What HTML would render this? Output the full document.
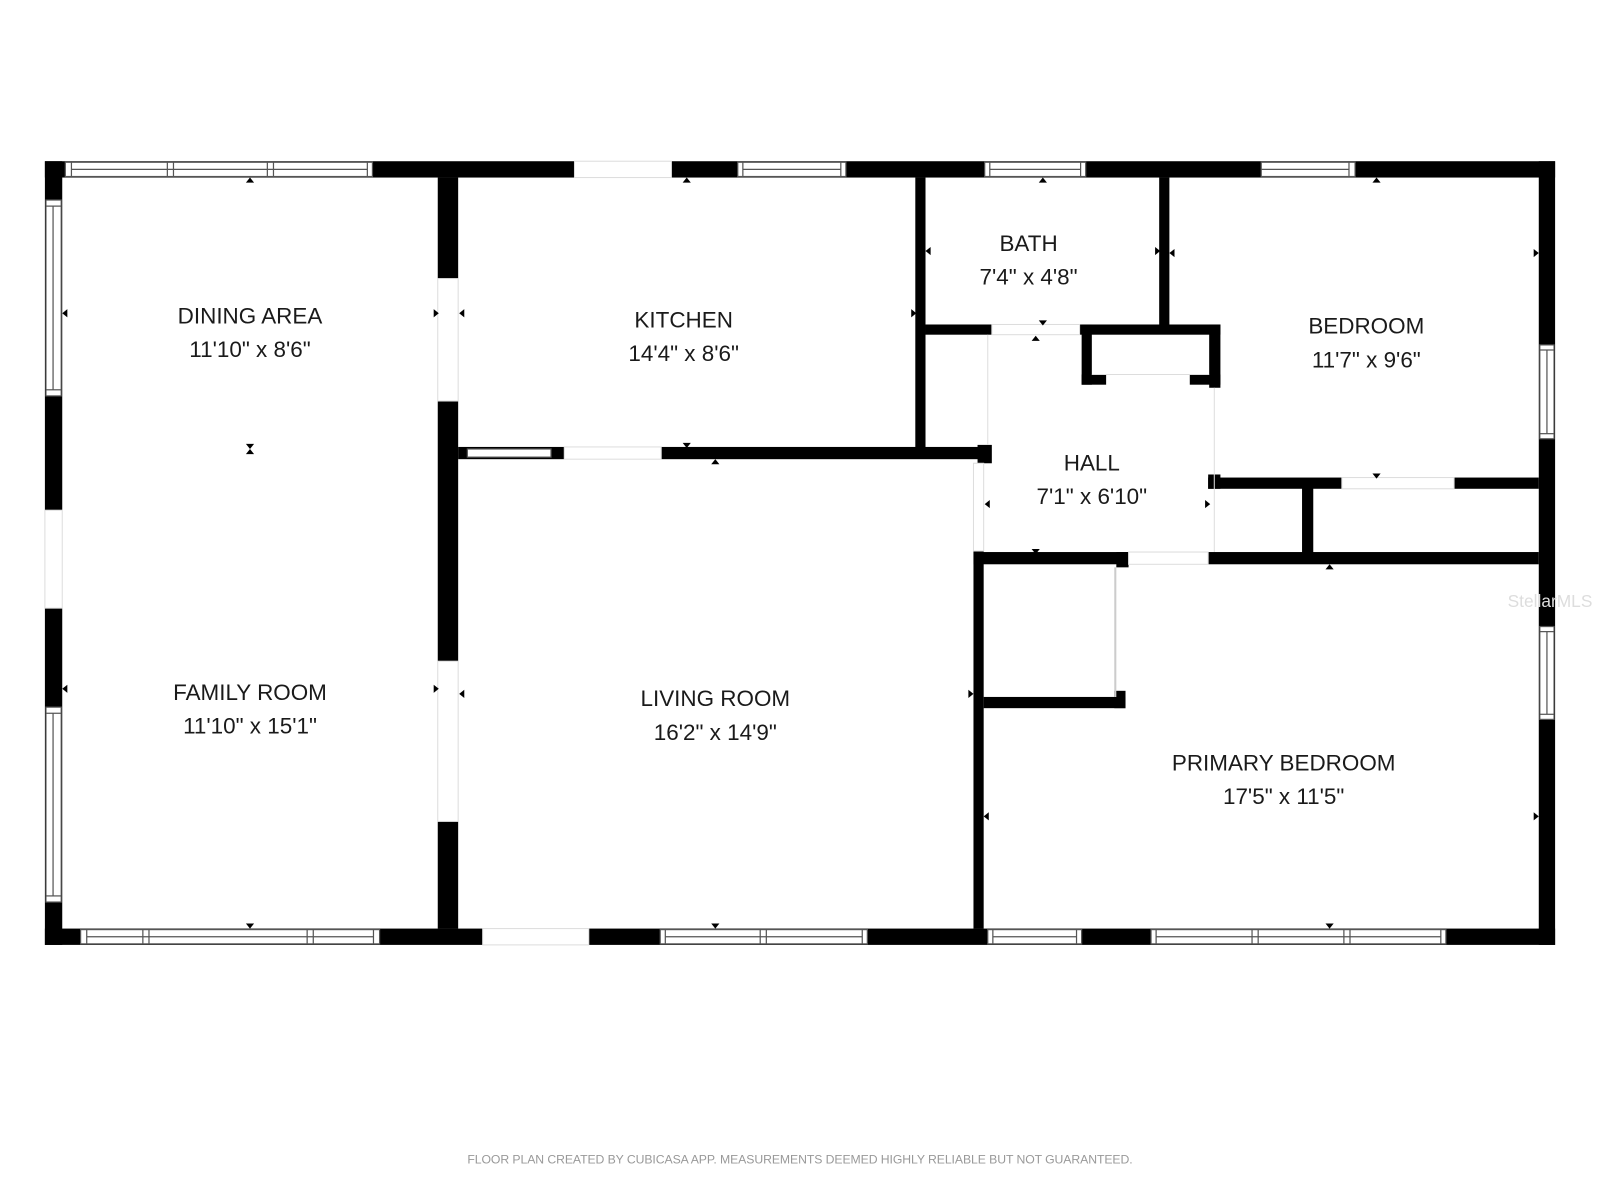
<!DOCTYPE html>
<html><head><meta charset="utf-8"><style>
html,body{margin:0;padding:0;background:#fff;width:1600px;height:1200px;overflow:hidden}
svg{display:block}
text{font-family:"Liberation Sans",sans-serif;fill:#1a1a1a;text-anchor:middle}
.w{fill:#fff;stroke:#555;stroke-width:1.2}
.l{stroke:#555;stroke-width:1.2}
.o{fill:#fff;stroke:#ddd;stroke-width:1}
</style></head><body>
<svg width="1600" height="1200" viewBox="0 0 1568 1176" xmlns="http://www.w3.org/2000/svg">
<defs>
<path id="u" d="M-4,2 L4,2 L0,-3 Z" fill="#000"/>
<path id="d" d="M-4,-2 L4,-2 L0,3 Z" fill="#000"/>
<path id="r" d="M-2,-4 L-2,4 L3,0 Z" fill="#000"/>
<path id="lt" d="M2,-4 L2,4 L-3,0 Z" fill="#000"/>
</defs>
<g fill="#000">
<rect x="44" y="158" width="1480" height="16"/>
<rect x="44" y="910" width="1480" height="16"/>
<rect x="44" y="158" width="17" height="768"/>
<rect x="1508" y="158" width="16" height="768"/>
<rect x="429" y="174" width="20" height="99"/>
<rect x="429" y="393" width="20" height="255"/>
<rect x="429" y="805" width="20" height="105"/>
<rect x="449" y="438" width="516" height="12"/>
<rect x="897" y="174" width="10" height="270"/>
<rect x="907" y="318" width="65" height="10"/>
<rect x="1058" y="318" width="138" height="10"/>
<rect x="1136" y="174" width="10" height="150"/>
<rect x="1060" y="318" width="10" height="59"/>
<rect x="1060" y="367" width="24" height="10"/>
<rect x="1185" y="318" width="11" height="62"/>
<rect x="1166" y="367" width="30" height="10"/>
<rect x="958" y="436" width="14" height="18"/>
<rect x="954" y="540" width="10" height="370"/>
<rect x="954" y="541" width="152" height="12"/>
<rect x="1094" y="541" width="12" height="15"/>
<rect x="1184" y="541" width="324" height="12"/>
<rect x="1184" y="465" width="12" height="14"/>
<rect x="1184" y="468" width="131" height="11"/>
<rect x="1425" y="468" width="83" height="11"/>
<rect x="1276" y="477" width="11" height="71"/>
<rect x="964" y="683" width="139" height="11"/>
<rect x="1092" y="677" width="11" height="17"/>
</g>
<rect class="o" x="563" y="158" width="95" height="16"/>
<rect class="o" x="44" y="500" width="17" height="96"/>
<rect class="o" x="473" y="910" width="104" height="16"/>
<rect class="o" x="553" y="438" width="95" height="12"/>
<rect class="o" x="429" y="273" width="20" height="120"/>
<rect class="o" x="429" y="648" width="20" height="157"/>
<rect class="o" x="972" y="318" width="86" height="10"/>
<rect class="o" x="1315" y="468" width="110" height="11"/>
<rect class="o" x="1106" y="541" width="78" height="12"/>
<rect class="o" x="954" y="454" width="10" height="86"/>
<line x1="1093" y1="556" x2="1093" y2="683" stroke="#ccc" stroke-width="2"/>
<line x1="1070" y1="367" x2="1185" y2="367" stroke="#ddd"/>
<line x1="1190" y1="380" x2="1190" y2="541" stroke="#ddd"/>
<line x1="968" y1="328" x2="968" y2="436" stroke="#ddd"/>
<g>
<rect class="w" x="64" y="159" width="301" height="14"/><line class="l" x1="70" y1="166" x2="360" y2="166"/>
<line class="l" x1="70" y1="159" x2="70" y2="173"/><line class="l" x1="164" y1="159" x2="164" y2="173"/><line class="l" x1="170" y1="159" x2="170" y2="173"/><line class="l" x1="262" y1="159" x2="262" y2="173"/><line class="l" x1="268" y1="159" x2="268" y2="173"/><line class="l" x1="360" y1="159" x2="360" y2="173"/>
<rect class="w" x="723" y="159" width="106" height="14"/><line class="l" x1="728" y1="166" x2="824" y2="166"/><line class="l" x1="728" y1="159" x2="728" y2="173"/><line class="l" x1="824" y1="159" x2="824" y2="173"/>
<rect class="w" x="965" y="159" width="99" height="14"/><line class="l" x1="970" y1="166" x2="1059" y2="166"/><line class="l" x1="970" y1="159" x2="970" y2="173"/><line class="l" x1="1059" y1="159" x2="1059" y2="173"/>
<rect class="w" x="1236" y="159" width="92" height="14"/><line class="l" x1="1236" y1="166" x2="1322" y2="166"/><line class="l" x1="1322" y1="159" x2="1322" y2="173"/>
<rect class="w" x="79" y="911" width="293" height="14"/><line class="l" x1="85" y1="918" x2="366" y2="918"/>
<line class="l" x1="85" y1="911" x2="85" y2="925"/><line class="l" x1="140" y1="911" x2="140" y2="925"/><line class="l" x1="146" y1="911" x2="146" y2="925"/><line class="l" x1="301" y1="911" x2="301" y2="925"/><line class="l" x1="307" y1="911" x2="307" y2="925"/><line class="l" x1="366" y1="911" x2="366" y2="925"/>
<rect class="w" x="647" y="911" width="203" height="14"/><line class="l" x1="652" y1="918" x2="845" y2="918"/><line class="l" x1="652" y1="911" x2="652" y2="925"/><line class="l" x1="745" y1="911" x2="745" y2="925"/><line class="l" x1="751" y1="911" x2="751" y2="925"/><line class="l" x1="845" y1="911" x2="845" y2="925"/>
<rect class="w" x="968" y="911" width="92" height="14"/><line class="l" x1="973" y1="918" x2="1055" y2="918"/><line class="l" x1="973" y1="911" x2="973" y2="925"/><line class="l" x1="1055" y1="911" x2="1055" y2="925"/>
<rect class="w" x="1128" y="911" width="289" height="14"/><line class="l" x1="1133" y1="918" x2="1412" y2="918"/>
<line class="l" x1="1133" y1="911" x2="1133" y2="925"/><line class="l" x1="1227" y1="911" x2="1227" y2="925"/><line class="l" x1="1233" y1="911" x2="1233" y2="925"/><line class="l" x1="1317" y1="911" x2="1317" y2="925"/><line class="l" x1="1323" y1="911" x2="1323" y2="925"/><line class="l" x1="1412" y1="911" x2="1412" y2="925"/>
<rect class="w" x="458" y="440" width="82" height="8"/>
<rect class="w" x="45" y="196" width="15" height="192"/><line class="l" x1="52" y1="202" x2="52" y2="382"/><line class="l" x1="45" y1="202" x2="60" y2="202"/><line class="l" x1="45" y1="382" x2="60" y2="382"/>
<rect class="w" x="45" y="693" width="15" height="191"/><line class="l" x1="52" y1="699" x2="52" y2="878"/><line class="l" x1="45" y1="699" x2="60" y2="699"/><line class="l" x1="45" y1="878" x2="60" y2="878"/>
<rect class="w" x="1509" y="338" width="14" height="92"/><line class="l" x1="1516" y1="343" x2="1516" y2="425"/><line class="l" x1="1509" y1="343" x2="1523" y2="343"/><line class="l" x1="1509" y1="425" x2="1523" y2="425"/>
<rect class="w" x="1509" y="614" width="14" height="91"/><line class="l" x1="1516" y1="619" x2="1516" y2="700"/><line class="l" x1="1509" y1="619" x2="1523" y2="619"/><line class="l" x1="1509" y1="700" x2="1523" y2="700"/>
</g>
<!-- markers -->
<use href="#u" x="245" y="177"/><use href="#u" x="673" y="177"/><use href="#u" x="1022" y="177"/><use href="#u" x="1349" y="177"/>
<use href="#lt" x="64" y="307"/><use href="#lt" x="64" y="675"/>
<use href="#r" x="427" y="307"/><use href="#lt" x="453" y="307"/><use href="#r" x="895" y="307"/>
<use href="#lt" x="910" y="246"/><use href="#r" x="1134" y="246"/><use href="#lt" x="1149" y="248"/><use href="#r" x="1505" y="248"/>
<use href="#d" x="1022" y="316"/><use href="#u" x="1015" y="332"/>
<use href="#d" x="673" y="436"/><use href="#u" x="701" y="453"/>
<use href="#d" x="245" y="437"/><use href="#u" x="245" y="443"/>
<use href="#lt" x="968" y="494"/><use href="#r" x="1183" y="494"/><use href="#d" x="1015" y="540"/>
<use href="#d" x="1349" y="466"/><use href="#u" x="1303" y="556"/>
<use href="#r" x="951" y="680"/><use href="#lt" x="967" y="800"/><use href="#r" x="1505" y="800"/>
<use href="#d" x="245" y="907"/><use href="#d" x="701" y="907"/><use href="#d" x="1303" y="907"/>
<use href="#r" x="427" y="675"/><use href="#lt" x="453" y="680"/>
<g font-size="22">
<text x="245" y="317">DINING AREA</text><text x="245" y="350">11'10" x 8'6"</text>
<text x="670" y="321">KITCHEN</text><text x="670" y="354">14'4" x 8'6"</text>
<text x="1008" y="246">BATH</text><text x="1008" y="279">7'4" x 4'8"</text>
<text x="1339" y="327">BEDROOM</text><text x="1339" y="360">11'7" x 9'6"</text>
<text x="1070" y="461">HALL</text><text x="1070" y="494">7'1" x 6'10"</text>
<text x="245" y="686">FAMILY ROOM</text><text x="245" y="719">11'10" x 15'1"</text>
<text x="701" y="692">LIVING ROOM</text><text x="701" y="725">16'2" x 14'9"</text>
<text x="1258" y="755">PRIMARY BEDROOM</text><text x="1258" y="788">17'5" x 11'5"</text>
</g>
<text x="784" y="1140" font-size="12" textLength="652" style="fill:#999">FLOOR PLAN CREATED BY CUBICASA APP. MEASUREMENTS DEEMED HIGHLY RELIABLE BUT NOT GUARANTEED.</text>
<text x="1519" y="595" font-size="17" style="fill:#ddd">StellarMLS</text>
</svg>
</body></html>
